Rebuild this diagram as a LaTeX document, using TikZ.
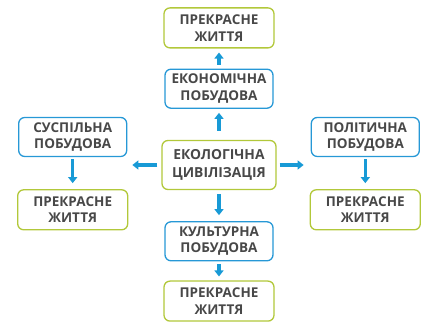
\documentclass[tikz,border=0pt]{standalone}
\usepackage{fontspec}
\setmainfont{Open Sans}
\usepackage{tikz}
\usetikzlibrary{arrows.meta,positioning}
\definecolor{boxblue}{RGB}{38,152,214}
\definecolor{boxgreen}{RGB}{178,200,58}
\definecolor{arrowblue}{RGB}{24,154,214}
\definecolor{textgray}{RGB}{72,72,72}

\begin{document}
\begin{tikzpicture}[
  x=1pt, y=-1pt,
  box/.style={draw=boxblue, line width=1.3pt, rounded corners=6pt, fill=white, align=center,
    minimum width=108pt, minimum height=39pt, inner sep=2pt, text=textgray,
    font=\fontsize{13.5}{16.5}\selectfont\bfseries},
  gbox/.style={box, draw=boxgreen, minimum width=110pt, minimum height=40pt},
  cbox/.style={gbox, minimum width=114pt, minimum height=49pt, font=\fontsize{13.8}{17.5}\selectfont\bfseries},
  arrow/.style={-{Triangle[length=6pt, width=9pt]}, line width=3.2pt, color=arrowblue}
]
\useasboundingbox (0,0) rectangle (440,336);
% center and the vertical branch
\node[cbox] (eco) at (219,165) {ЕКОЛОГІЧНА\\ЦИВІЛІЗАЦІЯ};
\node[box, above=31pt of eco] (econ) {ЕКОНОМІЧНА\\ПОБУДОВА};
\node[gbox, above=20pt of econ] (goodtop) {ПРЕКРАСНЕ\\ЖИТТЯ};
\node[box, below=31pt of eco] (cult) {КУЛЬТУРНА\\ПОБУДОВА};
\node[gbox, below=19pt of cult] (goodbot) {ПРЕКРАСНЕ\\ЖИТТЯ};
% side branches
\node[box, left=34pt of eco, yshift=28pt] (soc) {СУСПІЛЬНА\\ПОБУДОВА};
\node[gbox, below=32pt of soc] (goodleft) {ПРЕКРАСНЕ\\ЖИТТЯ};
\node[box, right=34pt of eco, yshift=28pt] (pol) {ПОЛІТИЧНА\\ПОБУДОВА};
\node[gbox, below=32pt of pol] (goodright) {ПРЕКРАСНЕ\\ЖИТТЯ};
% arrows
\draw[arrow, shorten <=9pt, shorten >=4pt] (eco) -- (econ);
\draw[arrow, shorten <=4pt, shorten >=4pt] (econ) -- (goodtop);
\draw[arrow, shorten <=4pt, shorten >=6pt] (eco) -- (cult);
\draw[arrow, shorten <=3pt, shorten >=4pt] (cult) -- (goodbot);
\draw[arrow, shorten <=4pt, shorten >=5pt] (eco.west) -- (eco.west -| soc.east);
\draw[arrow, shorten <=3pt, shorten >=7pt] (eco.east) -- (eco.east -| pol.west);
\draw[arrow, shorten <=2pt, shorten >=6pt] (soc) -- (goodleft);
\draw[arrow, shorten <=2pt, shorten >=6pt] (pol) -- (goodright);
\end{tikzpicture}
\end{document}
